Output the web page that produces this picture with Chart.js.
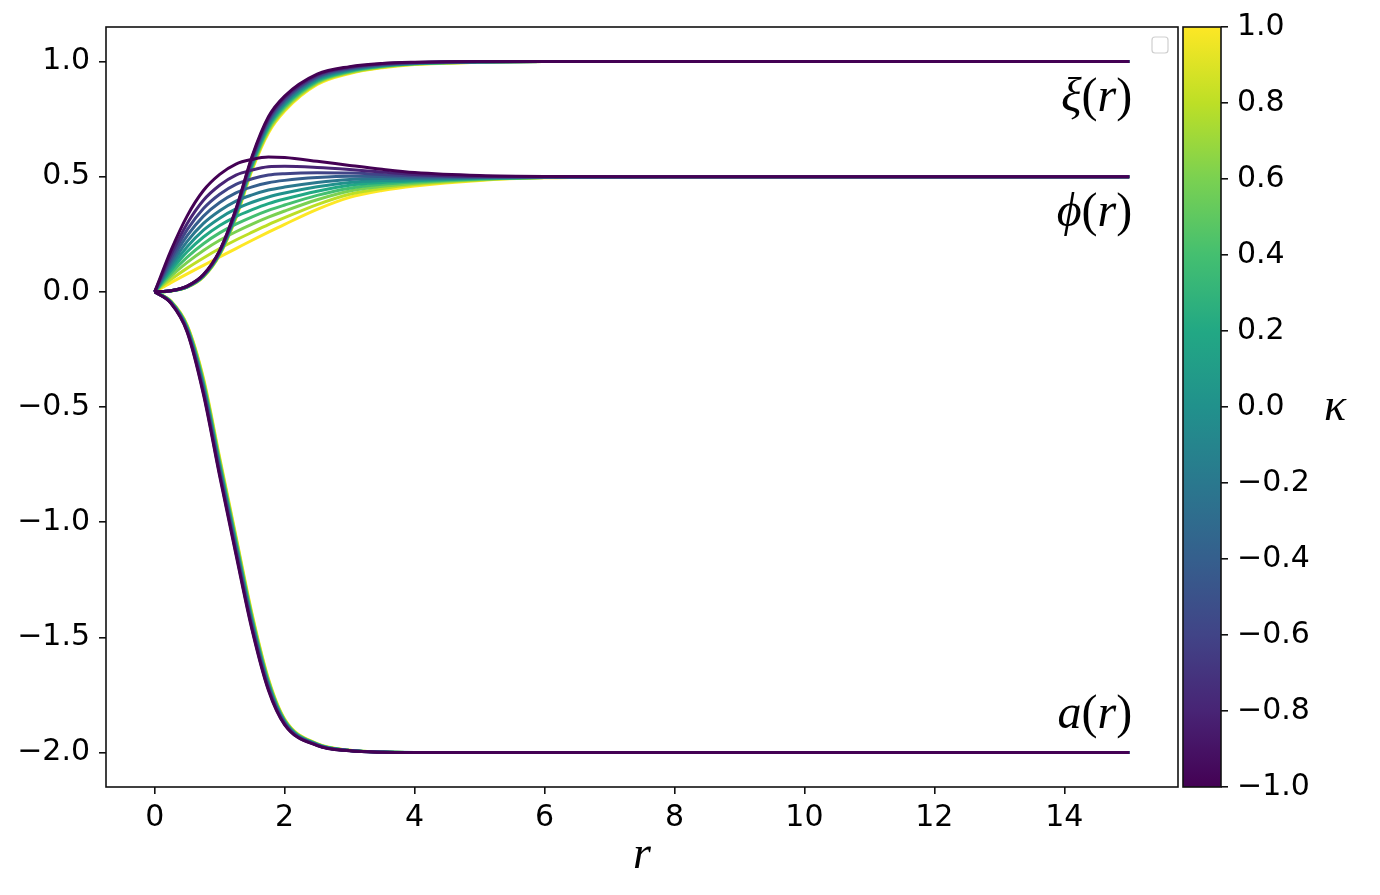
<!DOCTYPE html>
<html>
<head>
<meta charset="utf-8">
<script src="https://cdn.jsdelivr.net/npm/chart.js@4"></script>
<style>
  html, body { margin: 0; padding: 0; background: #fff; }
  #wrap { position: relative; width: 1380px; height: 895px; }
  #main { position: absolute; left: 0; top: 0; }
  #cbar { position: absolute; left: 1180px; top: 0; }
</style>
</head>
<body>
<div id="wrap">
  <canvas id="main" width="1182" height="895"></canvas>
  <canvas id="cbar" width="200" height="895"></canvas>
</div>
<script>
/* ===== profiles xi(r), phi(r), a(r) for a range of kappa ===== */
const r = [0, 0.25, 0.5, 0.75, 1, 1.25, 1.5, 1.75, 2, 2.5, 3, 3.5, 4, 5, 6, 8, 15];
const kappa = [-1, -0.8, -0.6, -0.4, -0.2, 0, 0.2, 0.4, 0.6, 0.8, 1];

// one row per kappa, values at r
const xi = [
    [0, .005, .025, .075, .180, .360, .590, .760, .850, .945, .978, .992, .997, 1, 1, 1, 1],
    [0, .005, .025, .074, .178, .356, .584, .753, .844, .941, .975, .990, .996, 1, 1, 1, 1],
    [0, .005, .024, .073, .176, .352, .578, .746, .837, .936, .972, .988, .995, .999, 1, 1, 1],
    [0, .005, .024, .072, .174, .348, .572, .739, .831, .932, .969, .986, .994, .999, 1, 1, 1],
    [0, .005, .023, .071, .172, .344, .566, .732, .824, .927, .966, .984, .993, .999, 1, 1, 1],
    [0, .005, .023, .070, .170, .340, .560, .725, .818, .923, .963, .983, .992, .999, 1, 1, 1],
    [0, .004, .022, .069, .168, .336, .554, .718, .811, .918, .960, .981, .991, .998, 1, 1, 1],
    [0, .004, .022, .068, .166, .332, .548, .711, .805, .914, .957, .979, .990, .998, 1, 1, 1],
    [0, .004, .021, .067, .164, .328, .542, .704, .798, .909, .954, .977, .989, .998, 1, 1, 1],
    [0, .004, .021, .066, .162, .324, .536, .697, .792, .905, .951, .975, .988, .997, 1, 1, 1],
    [0, .004, .020, .065, .160, .320, .530, .690, .785, .900, .948, .973, .987, .997, 1, 1, 1]
];
const phi = [
    [0, .180, .330, .440, .510, .555, .575, .585, .583, .567, .549, .532, .518, .505, .501, .5, .5],
    [0, .162, .297, .398, .463, .507, .529, .543, .545, .540, .531, .520, .510, .502, .500, .5, .5],
    [0, .146, .270, .362, .424, .467, .491, .507, .513, .517, .516, .510, .504, .500, .500, .5, .5],
    [0, .132, .244, .329, .388, .430, .456, .474, .484, .496, .502, .501, .498, .498, .499, .5, .5],
    [0, .118, .219, .297, .352, .394, .421, .442, .455, .475, .488, .492, .492, .496, .499, .5, .5],
    [0, .106, .196, .268, .320, .360, .389, .412, .429, .456, .475, .483, .487, .494, .498, .5, .5],
    [0, .093, .174, .238, .288, .327, .357, .383, .403, .437, .463, .475, .482, .492, .497, .5, .5],
    [0, .081, .151, .209, .256, .294, .326, .354, .377, .419, .450, .467, .477, .490, .497, .5, .5],
    [0, .068, .128, .180, .224, .261, .294, .324, .351, .400, .438, .458, .472, .488, .496, .5, .5],
    [0, .054, .103, .147, .188, .225, .259, .292, .322, .379, .424, .449, .466, .486, .496, .5, .5],
    [0, .040, .078, .115, .152, .188, .224, .259, .293, .358, .410, .440, .460, .484, .495, .5, .5]
];
const a = [
    [0, -.050, -.175, -.445, -.800, -1.140, -1.470, -1.730, -1.880, -1.970, -1.993, -1.999, -2, -2, -2, -2, -2],
    [0, -.049, -.172, -.438, -.792, -1.132, -1.463, -1.725, -1.878, -1.969, -1.993, -1.999, -2, -2, -2, -2, -2],
    [0, -.048, -.169, -.431, -.784, -1.124, -1.456, -1.720, -1.875, -1.968, -1.992, -1.999, -2, -2, -2, -2, -2],
    [0, -.047, -.166, -.424, -.776, -1.116, -1.449, -1.715, -1.873, -1.968, -1.992, -1.999, -2, -2, -2, -2, -2],
    [0, -.046, -.163, -.417, -.768, -1.108, -1.442, -1.710, -1.870, -1.967, -1.992, -1.999, -2, -2, -2, -2, -2],
    [0, -.045, -.160, -.410, -.760, -1.100, -1.435, -1.705, -1.868, -1.966, -1.992, -1.998, -2, -2, -2, -2, -2],
    [0, -.044, -.157, -.403, -.752, -1.092, -1.428, -1.700, -1.865, -1.965, -1.991, -1.998, -2, -2, -2, -2, -2],
    [0, -.043, -.154, -.396, -.744, -1.084, -1.421, -1.695, -1.863, -1.964, -1.991, -1.998, -2, -2, -2, -2, -2],
    [0, -.042, -.151, -.389, -.736, -1.076, -1.414, -1.690, -1.860, -1.964, -1.991, -1.998, -2, -2, -2, -2, -2],
    [0, -.041, -.148, -.382, -.728, -1.068, -1.407, -1.685, -1.858, -1.963, -1.990, -1.998, -2, -2, -2, -2, -2],
    [0, -.040, -.145, -.375, -.720, -1.060, -1.400, -1.680, -1.855, -1.962, -1.990, -1.998, -2, -2, -2, -2, -2]
];

const xTicks = [0, 2, 4, 6, 8, 10, 12, 14];
const yTicks = [-2, -1.5, -1, -0.5, 0, 0.5, 1];
const kTicks = [-1, -0.8, -0.6, -0.4, -0.2, 0, 0.2, 0.4, 0.6, 0.8, 1];
const viridis = ['#440154', '#482475', '#414487', '#355f8d', '#2a788e', '#21918c',
                 '#22a884', '#44bf70', '#7ad151', '#bddf26', '#fde725'];

// curve labels (text at data coordinates, right aligned)
const curveLabels = [
    { name: 'ξ', x: 15, y: 0.787 },
    { name: 'ϕ', x: 15, y: 0.284 },
    { name: 'a', x: 15, y: -1.892 }
];

const INK = '#111';
const TICK_FONT = { family: "'DejaVu Sans', sans-serif", size: 30 };
const MATH = "'Liberation Serif', 'DejaVu Serif', serif";
const fmt = v => v.toFixed(1).replace('-', '\u2212');

Chart.defaults.font.family = "'DejaVu Sans', sans-serif";
Chart.defaults.color = '#000';

function series(ys) { return r.map((x, j) => ({ x, y: ys[j] })); }

function drawMath(ctx, parts, xRight, yBase, size) {
    const fonts = parts.map(p => (p[1] ? 'italic ' : '') + size + 'px ' + MATH);
    const widths = parts.map((p, i) => { ctx.font = fonts[i]; return ctx.measureText(p[0]).width; });
    let x = xRight - widths.reduce((s, w) => s + w, 0);
    ctx.textBaseline = 'alphabetic';
    ctx.textAlign = 'left';
    parts.forEach((p, i) => { ctx.font = fonts[i]; ctx.fillText(p[0], x, yBase); x += widths[i]; });
}

const datasets = [];
kappa.forEach((k, i) => {
    [xi, phi, a].forEach(f => {
        datasets.push({
            label: 'kappa ' + k, data: series(f[i]),
            borderColor: viridis[i], borderWidth: 3, pointRadius: 0,
            cubicInterpolationMode: 'monotone', fill: false, order: i
        });
    });
});

const framePlugin = {
    id: 'frame',
    afterDraw(chart) {
        const { ctx, chartArea: c, scales } = chart;
        ctx.save();
        ctx.strokeStyle = INK; ctx.lineWidth = 1.6;
        ctx.strokeRect(c.left, c.top, c.right - c.left, c.bottom - c.top);
        // empty legend frame
        ctx.strokeStyle = '#cfcfcf'; ctx.lineWidth = 1.2;
        ctx.beginPath(); ctx.roundRect(c.right - 26, c.top + 10, 16, 16, 3); ctx.stroke();
        // curve names
        ctx.fillStyle = '#000';
        curveLabels.forEach(l => {
            drawMath(ctx, [[l.name, true], ['(', false], ['r', true], [')', false]],
                scales.x.getPixelForValue(l.x) + 3, scales.y.getPixelForValue(l.y), 48);
        });
        ctx.restore();
    }
};

new Chart(document.getElementById('main'), {
    type: 'line',
    data: { datasets },
    options: {
        responsive: false, animation: false, devicePixelRatio: 1,
        layout: { padding: { top: 26, right: 4, left: 0, bottom: 0 } },
        plugins: { legend: { display: false }, tooltip: { enabled: false } },
        scales: {
            x: {
                type: 'linear', min: -0.75, max: 15.75,
                afterBuildTicks: s => { s.ticks = xTicks.map(v => ({ value: v })); },
                afterFit: s => { s.height = 108; },
                border: { display: false },
                grid: { drawOnChartArea: false, drawTicks: true, tickLength: 7, color: INK, lineWidth: 1.6 },
                ticks: { font: TICK_FONT, color: '#000', padding: 6, maxRotation: 0, callback: v => String(v) },
                title: { display: true, text: 'r', color: '#000', padding: { top: 0, bottom: 11 },
                         font: { family: MATH, size: 46, style: 'italic' } }
            },
            y: {
                type: 'linear', min: -2.15, max: 1.15,
                afterBuildTicks: s => { s.ticks = yTicks.map(v => ({ value: v })); },
                afterFit: s => { s.width = 106; },
                border: { display: false },
                grid: { drawOnChartArea: false, drawTicks: true, tickLength: 7, color: INK, lineWidth: 1.6 },
                ticks: { font: TICK_FONT, color: '#000', padding: 9, callback: v => fmt(v) }
            }
        }
    },
    plugins: [framePlugin]
});

/* ===== colour bar ===== */
const cbarPlugin = {
    id: 'cbar',
    beforeDraw(chart) {
        const { ctx, chartArea: c } = chart;
        const g = ctx.createLinearGradient(0, c.bottom, 0, c.top);
        viridis.forEach((col, i) => g.addColorStop(i / (viridis.length - 1), col));
        ctx.save();
        ctx.fillStyle = g;
        ctx.fillRect(c.left, c.top, c.right - c.left, c.bottom - c.top);
        ctx.restore();
    },
    afterDraw(chart) {
        const { ctx, chartArea: c } = chart;
        ctx.save();
        ctx.strokeStyle = INK; ctx.lineWidth = 1.6;
        ctx.strokeRect(c.left, c.top, c.right - c.left, c.bottom - c.top);
        ctx.fillStyle = '#000';
        ctx.font = 'italic 46px ' + MATH;
        ctx.textAlign = 'center'; ctx.textBaseline = 'alphabetic';
        ctx.fillText('κ', c.right + 114, (c.top + c.bottom) / 2 + 13);
        ctx.restore();
    }
};

new Chart(document.getElementById('cbar'), {
    type: 'line',
    data: { datasets: [] },
    options: {
        responsive: false, animation: false, devicePixelRatio: 1,
        layout: { padding: { top: 26, right: 0, left: 3, bottom: 108 } },
        plugins: { legend: { display: false }, tooltip: { enabled: false } },
        scales: {
            x: { type: 'linear', display: false, min: 0, max: 1 },
            y: {
                type: 'linear', position: 'right', min: -1, max: 1,
                afterBuildTicks: s => { s.ticks = kTicks.map(v => ({ value: v })); },
                afterFit: s => { s.width = 159; },
                border: { display: false },
                grid: { drawOnChartArea: false, drawTicks: true, tickLength: 7, color: INK, lineWidth: 1.6 },
                ticks: { font: TICK_FONT, color: '#000', padding: 9, callback: v => fmt(v) }
            }
        }
    },
    plugins: [cbarPlugin]
});
</script>
</body>
</html>
